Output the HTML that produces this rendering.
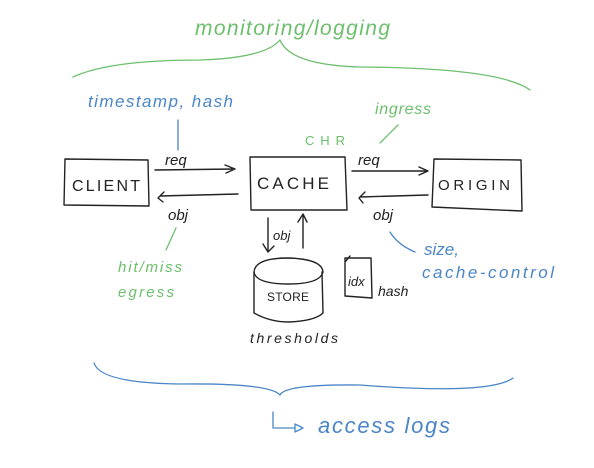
<!DOCTYPE html>
<html><head><meta charset="utf-8"><style>
html,body{margin:0;padding:0;background:#fff;width:594px;height:468px;overflow:hidden}
svg text{font-family:"Liberation Sans",sans-serif}
</style></head><body>
<svg width="594" height="468" viewBox="0 0 594 468" xmlns="http://www.w3.org/2000/svg" fill="none" stroke-linecap="round" stroke-linejoin="round">
<!-- top brace -->
<path d="M73 77 Q110 60 200 60 Q265 58 280 40 Q290 65 360 67 Q500 68 530 90" stroke="#6cbf6c" stroke-width="1.3"/>
<text x="195" y="35" fill="#6cbf6c" font-size="21" stroke="none" font-style="italic" textLength="195">monitoring/logging</text>
<text x="88" y="107" fill="#4a86c8" font-size="17" stroke="none" font-style="italic" textLength="145">timestamp, hash</text>
<path d="M178 120 L178 150" stroke="#4a86c8" stroke-width="1.3"/>
<text x="305" y="145" fill="#6cbf6c" font-size="13" stroke="none" textLength="40">CHR</text>
<text x="375" y="114" fill="#6cbf6c" font-size="16" stroke="none" font-style="italic" textLength="56">ingress</text>
<path d="M398 125 L380 143" stroke="#6cbf6c" stroke-width="1.3"/>
<!-- boxes -->
<g stroke="#222" stroke-width="1.4">
<path d="M65 159 L148 160 L149 206 L64 205 Z"/>
<path d="M250 157 L345 157 L347 210 L251 210 Z"/>
<path d="M434 159 L521 160 L522 211 L432 207 Z"/>
<!-- arrows -->
<path d="M155 170 L235 169 M225 165 L235 169 L226 173"/>
<path d="M238 194 L160 196 M164 192 L158 198 L163 202"/>
<path d="M352 171 L428 171 M419 167 L428 171 L419 175"/>
<path d="M428 195 L360 197 M365 192 L359 198 L363 203"/>
<path d="M268 218 L268 250 M263 244 L268 252 L274 246"/>
<path d="M303 248 L303 216 M298 222 L303 214 L307 222"/>
<!-- store cylinder -->
<path d="M254 272 Q255 258 288 258 Q322 259 323 272 Q320 284 288 284 Q256 284 254 272 Z"/>
<path d="M254 272 L254 313 Q270 322 288 322 Q315 321 323 313 L322 272"/>
<path d="M345 258 L371 258 L372 298 L345 296 Z M345 262 L350 256"/>
</g>
<g fill="#222" stroke="none">
<text x="72" y="191" font-size="16" textLength="68">CLIENT</text>
<text x="257" y="189" font-size="17" textLength="72">CACHE</text>
<text x="438" y="190" font-size="15" textLength="72">ORIGIN</text>
<text x="165" y="165" font-size="15" font-style="italic">req</text>
<text x="358" y="165" font-size="15" font-style="italic">req</text>
<text x="168" y="220" font-size="15" font-style="italic">obj</text>
<text x="373" y="220" font-size="15" font-style="italic">obj</text>
<text x="273" y="240" font-size="13" font-style="italic">obj</text>
<text x="267" y="301" font-size="12" textLength="42">STORE</text>
<text x="348" y="286" font-size="13" font-style="italic">idx</text>
<text x="378" y="296" font-size="14" font-style="italic">hash</text>
<text x="250" y="343" font-size="14" font-style="italic" textLength="88">thresholds</text>
</g>
<text x="118" y="272" fill="#6cbf6c" font-size="15" stroke="none" font-style="italic" textLength="64">hit/miss</text>
<text x="118" y="297" fill="#6cbf6c" font-size="15" stroke="none" font-style="italic" textLength="56">egress</text>
<path d="M176 228 L166 250" stroke="#6cbf6c" stroke-width="1.3"/>
<text x="424" y="255" fill="#4a86c8" font-size="17" stroke="none" font-style="italic">size,</text>
<text x="422" y="278" fill="#4a86c8" font-size="17" stroke="none" font-style="italic" textLength="132">cache-control</text>
<path d="M390 232 Q398 245 415 252" stroke="#4a86c8" stroke-width="1.3"/>
<!-- bottom brace -->
<path d="M94 363 Q100 383 180 384 Q270 383 280 395 Q285 384 360 385 Q490 395 513 378" stroke="#4a86c8" stroke-width="1.3"/>
<path d="M273 412 L273 428 L295 428 M295 424 L303 428 L295 432 Z" stroke="#4a86c8" stroke-width="1.3"/>
<text x="318" y="433" fill="#4a86c8" font-size="22" stroke="none" font-style="italic" textLength="132">access logs</text>
</svg>
</body></html>
